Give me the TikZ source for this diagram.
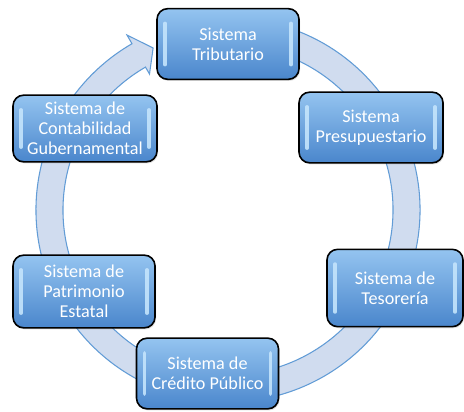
\documentclass[tikz,border=0pt]{standalone}
\usepackage{fontspec}
\setmainfont{Carlito}
\usetikzlibrary{shadows}
\definecolor{ringfill}{RGB}{208,220,239}
\definecolor{ringline}{RGB}{98,156,214}
\definecolor{boxtop}{RGB}{148,196,240}
\definecolor{boxbottom}{RGB}{74,134,204}
\definecolor{glosscol}{RGB}{196,228,252}

\begin{document}
\begin{tikzpicture}[x=0.75pt, y=0.75pt,
    gloss/.style={glosscol, line width=2.6pt, line cap=round, opacity=0.9},
    sysbox/.style={draw=black, line width=1.2pt, rounded corners=8pt,
        top color=boxtop, bottom color=boxbottom, text=white, align=center,
        font=\fontsize{13.6}{15}\selectfont, inner sep=0pt,
        minimum width=106.5pt, minimum height=53pt,
        drop shadow={opacity=0.25, shadow xshift=0.8pt, shadow yshift=-1.2pt},
        path picture={
            \draw[gloss] ([xshift=6pt,yshift=-11pt]path picture bounding box.north west)
                -- ([xshift=6pt,yshift=11pt]path picture bounding box.south west);
            \draw[gloss] ([xshift=-6pt,yshift=-11pt]path picture bounding box.north east)
                -- ([xshift=-6pt,yshift=11pt]path picture bounding box.south east);
        }}]
    \useasboundingbox (0,0) rectangle (464,411);

    % circular arrow
    \begin{scope}[shift={(228,201)}]
        \draw[ringline, fill=ringfill, line width=0.8pt]
            (75:192) arc[start angle=75, end angle=-240, radius=192]
            -- (-240:202) -- (-245.2:178.5) -- (-240:157) -- (-240:165)
            arc[start angle=-240, end angle=75, radius=165] -- cycle;
    \end{scope}

    % subsystems
    \node[sysbox] (tributario) at (228,367) {Sistema\\Tributario};
    \node[sysbox, minimum width=108pt] (presupuestario) at (371,283.5) {Sistema\\Presupuestario};
    \node[sysbox, minimum width=102pt, minimum height=58pt] (tesoreria) at (395,123) {Sistema de\\Tesorería};
    \node[sysbox] (credito) at (207.5,37.5) {Sistema de\\Crédito Público};
    \node[sysbox, minimum height=54.5pt] (patrimonio) at (84,119.5) {Sistema de\\Patrimonio\\Estatal};
    \node[sysbox, minimum width=108pt, minimum height=50pt] (contabilidad) at (85,282.5) {Sistema de\\Contabilidad\\Gubernamental};
\end{tikzpicture}
\end{document}
